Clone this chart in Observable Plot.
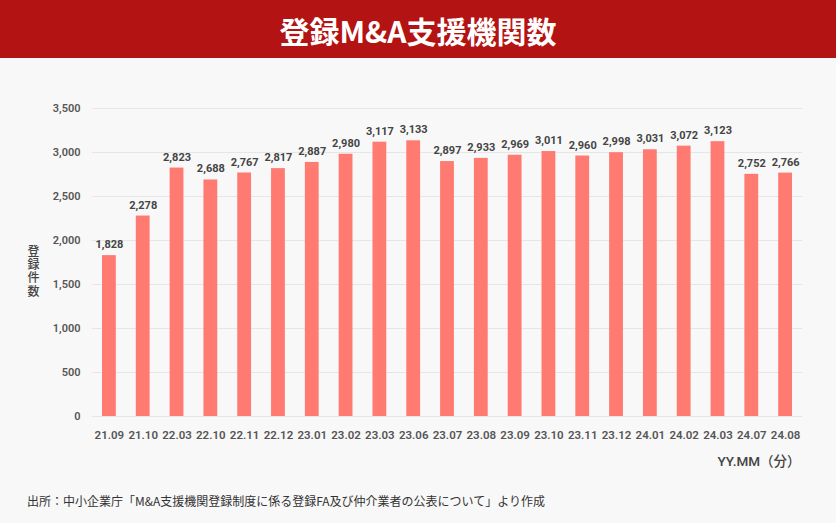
<!DOCTYPE html>
<html>
<head>
<meta charset="utf-8">
<script src="https://cdn.jsdelivr.net/npm/d3@7"></script>
<script src="https://cdn.jsdelivr.net/npm/@observablehq/plot@0.6"></script>
<style>
  html, body { margin: 0; padding: 0; background: #f8f8f8; width: 836px; height: 523px; overflow: hidden; }
  body { font-family: Roboto, "Noto Sans CJK JP", sans-serif; position: relative; }
  #title { position: absolute; left: 0; top: 0; width: 836px; height: 58px; background: #b31312;
    color: #fff; font-size: 30px; font-weight: 700; text-align: center; line-height: 60px;
    font-family: "Noto Sans CJK JP", Roboto, sans-serif; }
  #chart { position: absolute; left: 0; top: 58px; }
  #caption { position: absolute; left: 27px; top: 492px; font-size: 12px; color: #333;
    font-family: "Noto Sans CJK JP", sans-serif; }
</style>
</head>
<body>
<div id="title">登録M&amp;A支援機関数</div>
<div id="chart"></div>
<div id="caption">出所：中小企業庁「M&amp;A支援機関登録制度に係る登録FA及び仲介業者の公表について」より作成</div>
<script>
const periods = ["21.09","21.10","22.03","22.10","22.11","22.12","23.01","23.02","23.03","23.06","23.07","23.08","23.09","23.10","23.11","23.12","24.01","24.02","24.03","24.07","24.08"];
const counts = [1828,2278,2823,2688,2767,2817,2887,2980,3117,3133,2897,2933,2969,3011,2960,2998,3031,3072,3123,2752,2766];
const yTicks = [0,500,1000,1500,2000,2500,3000,3500];
const yLabel = "登録件数";
const xLabel = "YY.MM（分）";

const data = periods.map((p, i) => ({period: p, count: counts[i]}));
const fmt = d3.format(",");

const chart = Plot.plot({
  width: 836,
  height: 430,
  marginTop: 50,
  marginBottom: 72,
  marginLeft: 92,
  marginRight: 34,
  style: {background: "transparent", fontFamily: "Roboto, 'Noto Sans CJK JP', sans-serif"},
  x: {domain: periods, padding: 0, round: false, label: null},
  y: {domain: [0, 3500], label: null},
  marks: [
    Plot.gridY(yTicks, {stroke: "#e6e6e6", strokeOpacity: 1, strokeWidth: 1}),
    Plot.axisY(yTicks, {tickSize: 0, tickPadding: 12, tickFormat: fmt, fontSize: 11, fontWeight: 600, fill: "#555", label: null}),
    Plot.axisX({tickSize: 0, tickPadding: 14, fontSize: 11.5, fontWeight: 600, fill: "#555", label: null}),
    Plot.barY(data, {x: "period", y: "count", fill: "#ff7b72", insetLeft: 10, insetRight: 10}),
    Plot.text(data, {x: "period", y: "count", text: d => fmt(d.count), dy: -11, fontSize: 11, fontWeight: 700, fill: "#444"}),
    Plot.text([yLabel.split("").join("\n")], {frameAnchor: "left", dx: -65, dy: 9, fontSize: 12, fontWeight: 500, fill: "#444", lineHeight: 1.1, text: d => d}),
    Plot.text([xLabel], {frameAnchor: "bottom-right", dx: -2, dy: 49, textAnchor: "end", fontSize: 13.5, fontWeight: 500, fill: "#444", text: d => d})
  ]
});
document.getElementById("chart").appendChild(chart);
</script>
</body>
</html>
